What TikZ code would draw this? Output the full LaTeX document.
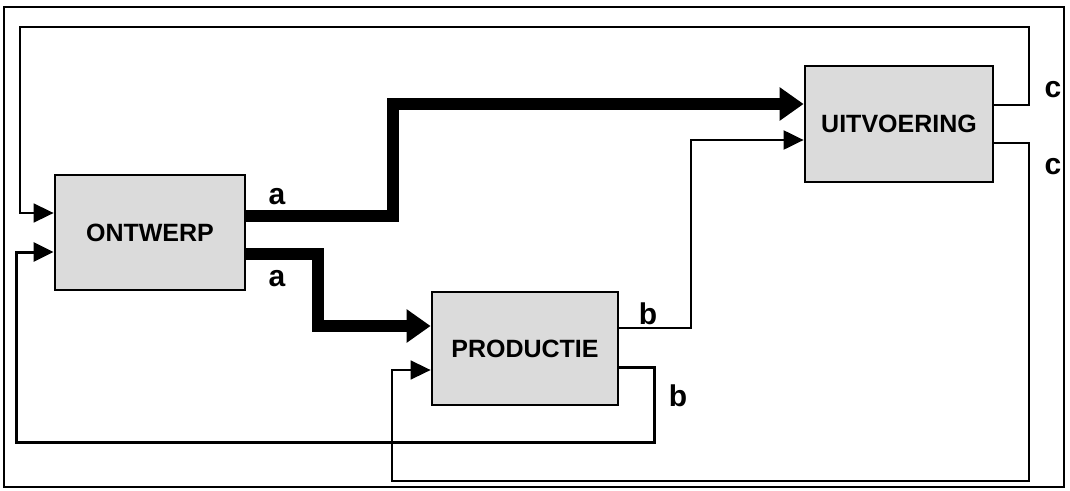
\documentclass[tikz,border=0pt]{standalone}
\usepackage{fontspec}
\setmainfont{Liberation Sans}
\usetikzlibrary{arrows.meta}
\tikzset{
  box/.style={draw=black, line width=2.8pt, fill=black!14, minimum width=#1, minimum height=114pt, inner sep=0pt,
    font=\fontsize{25}{28}\selectfont\bfseries},
  lbl/.style={font=\fontsize{30}{32}\selectfont\bfseries, inner sep=0pt},
  thick flow/.style={line width=12pt, line join=miter, -{Triangle[length=24pt,width=32pt]}},
  thin flow/.style={line width=#1, line join=miter, -{Triangle[length=20pt,width=19pt]}},
  frame/.style={line width=1.4pt}
}
\begin{document}
\begin{tikzpicture}[x=1pt,y=-1pt]
\useasboundingbox (0,0) rectangle (1070,490);
\draw[frame] (4,7) rectangle (1064,487);

\node[box=190pt, minimum height=115pt] (ont) at (150,232.5) {ONTWERP};
\node[box=186pt, minimum height=113pt] (prod) at (525,348.5) {PRODUCTIE};
\node[box=188pt, minimum height=116pt] (uit) at (899,124) {UITVOERING};

\coordinate (c1a) at (1029,105);
\coordinate (c1b) at (1029,27);
\coordinate (c1c) at (20,27);
\coordinate (c1d) at (20,213);
\draw[thin flow=1.7pt] (uit.east |- c1a) -- (c1a) -- (c1b) -- (c1c) -- (c1d) -- (ont.west |- c1d);

\coordinate (c2a) at (1029,143);
\coordinate (c2b) at (1029,481);
\coordinate (c2c) at (392,481);
\coordinate (c2d) at (392,370);
\draw[thin flow=1.7pt] (uit.east |- c2a) -- (c2a) -- (c2b) -- (c2c) -- (c2d) -- (prod.west |- c2d);

\coordinate (a1a) at (393,216);
\coordinate (a1b) at (393,104);
\draw[thick flow] (ont.east |- a1a) -- (a1a) -- (a1b) -- (uit.west |- a1b);

\coordinate (a2a) at (318,254);
\coordinate (a2b) at (318,326);
\draw[thick flow] (ont.east |- a2a) -- (a2a) -- (a2b) -- (prod.west |- a2b);

\coordinate (b1a) at (691,328);
\coordinate (b1b) at (691,140);
\draw[thin flow=2.2pt] (prod.east |- b1a) -- (b1a) -- (b1b) -- (uit.west |- b1b);

\coordinate (b2a) at (654,367);
\coordinate (b2b) at (654,442);
\coordinate (b2c) at (16,442);
\coordinate (b2d) at (16,252);
\draw[thin flow=3pt] (prod.east |- b2a) -- (b2a) -- (b2b) -- (b2c) -- (b2d) -- (ont.west |- b2d);

\node[lbl] (la1) at (277,197) {a};
\node[lbl] (la2) at (277,279) {a};
\node[lbl] (lb1) at (648,314) {b};
\node[lbl] (lb2) at (678,396) {b};
\node[lbl] (lc1) at (1053,90) {c};
\node[lbl] (lc2) at (1053,167) {c};
\end{tikzpicture}
\end{document}
